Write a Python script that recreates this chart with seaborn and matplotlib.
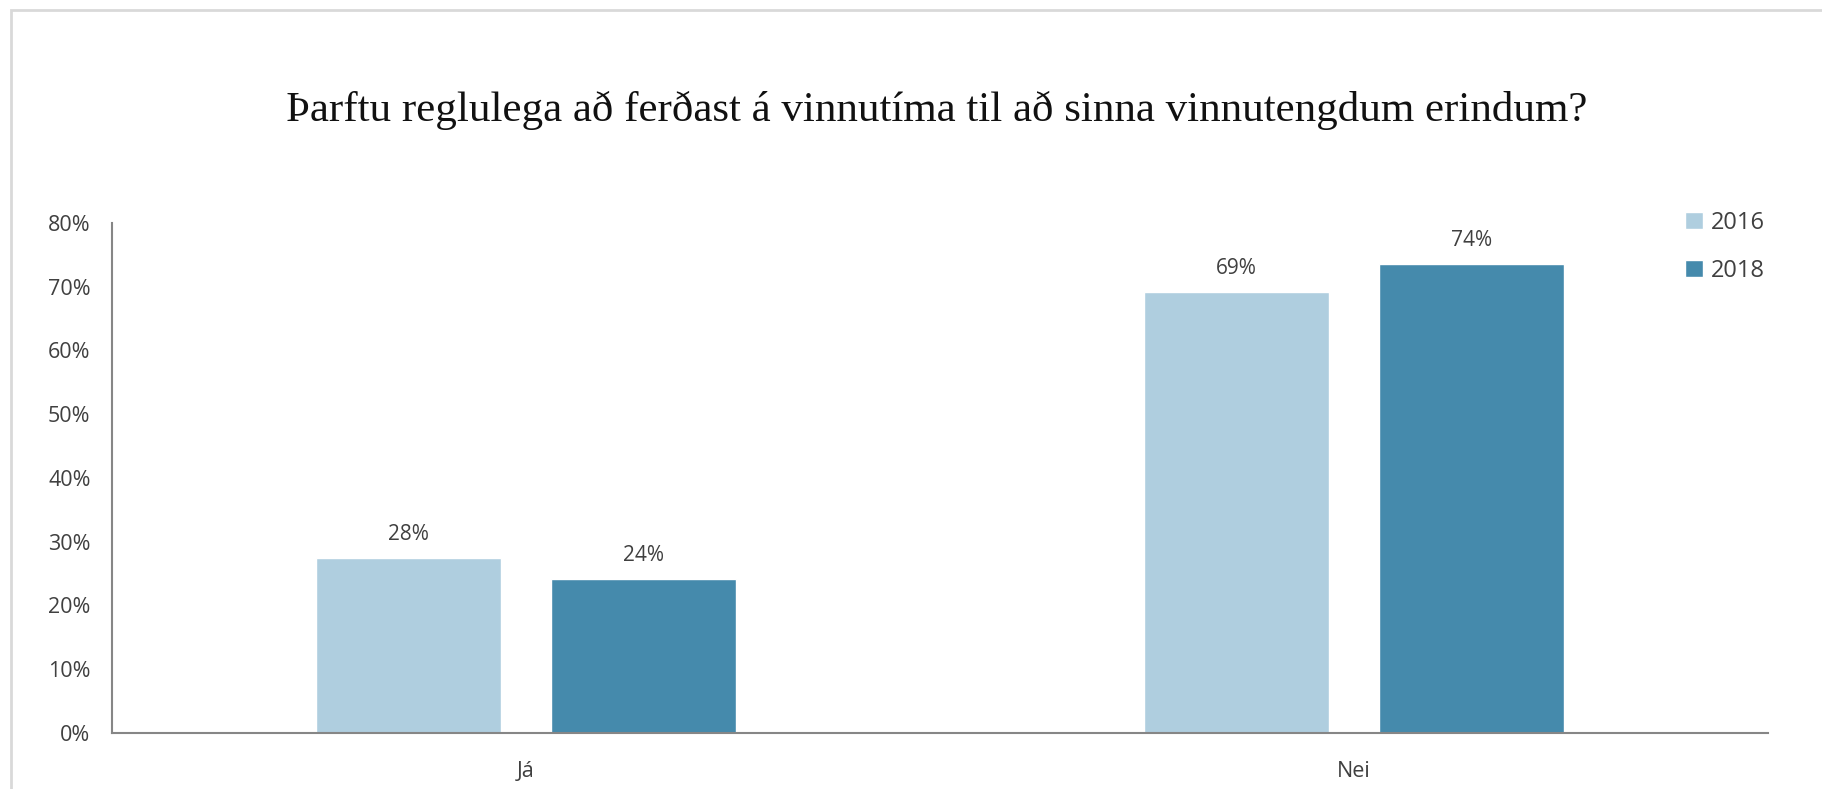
import pandas as pd
import matplotlib
matplotlib.use("Agg")
import matplotlib.pyplot as plt
import seaborn as sns
from matplotlib.patches import Rectangle
from matplotlib.ticker import PercentFormatter

#-------------------------------------------------------------------------

# Chart data
categories = ["Já", "Nei"]
years = ["2016", "2018"]
values_2016 = [27.5, 69.2]
values_2018 = [24.2, 73.6]
labels_2016 = ["28%", "69%"]
labels_2018 = ["24%", "74%"]

title = "Þarftu reglulega að ferðast á vinnutíma til að sinna vinnutengdum erindum?"
colors = ["#AFCEDF", "#458AAC"]
text_color = "#404040"

#-------------------------------------------------------------------------

def main():
    data = pd.DataFrame({
        "Svar": categories * 2,
        "Ár": [years[0]] * len(categories) + [years[1]] * len(categories),
        "Hlutfall": values_2016 + values_2018,
    })

    sns.set_theme(style="white")
    plt.rcParams["font.family"] = ["Open Sans", "DejaVu Sans"]

    fig = plt.figure(figsize=(18.22, 7.89), dpi=100)
    ax = fig.add_axes([0.0615, 0.0710, 0.9089, 0.6464])

    sns.barplot(data=data, x="Svar", y="Hlutfall", hue="Ár", hue_order=years,
                palette=colors, width=0.568, gap=0.211, saturation=1,
                ax=ax, legend=True)

    # Data labels on top of bars
    for container, labs in zip(ax.containers, [labels_2016, labels_2018]):
        ax.bar_label(container, labels=labs, padding=9, fontsize=15,
                     color=text_color)

    ax.set_xlim(-0.5, 1.5)
    ax.set_ylim(0, 80)
    ax.set_yticks(range(0, 81, 10))
    ax.yaxis.set_major_formatter(PercentFormatter(decimals=0))
    ax.set_xlabel("")
    ax.set_ylabel("")
    ax.tick_params(axis="y", length=0, pad=15.5, labelsize=15.5, labelcolor=text_color)
    ax.tick_params(axis="x", length=0, pad=20, labelsize=15.5, labelcolor=text_color)

    for side in ["top", "right"]:
        ax.spines[side].set_visible(False)
    for side in ["left", "bottom"]:
        ax.spines[side].set_color("#868686")
        ax.spines[side].set_linewidth(1.5)

    ax.legend(loc="upper left", bbox_to_anchor=(0.937, 1.065), frameon=False,
              fontsize=17, handlelength=0.75, handleheight=0.75,
              handletextpad=0.35, labelspacing=1.0, labelcolor=text_color)

    fig.text(0.514, 0.86, title, ha="center", va="center", fontsize=31,
             family=["Liberation Serif", "DejaVu Serif"], color="#111111")

    # Light border round the chart area
    fig.patches.append(Rectangle((11 / 1822, -0.05), 1.2, 1 - 10 / 789 + 0.05,
                                 transform=fig.transFigure, fill=False,
                                 edgecolor="#D9D9D9", linewidth=2))

    fig.savefig("out.png", dpi=100)

#-------------------------------------------------------------------------

if __name__ == "__main__":
    main()
